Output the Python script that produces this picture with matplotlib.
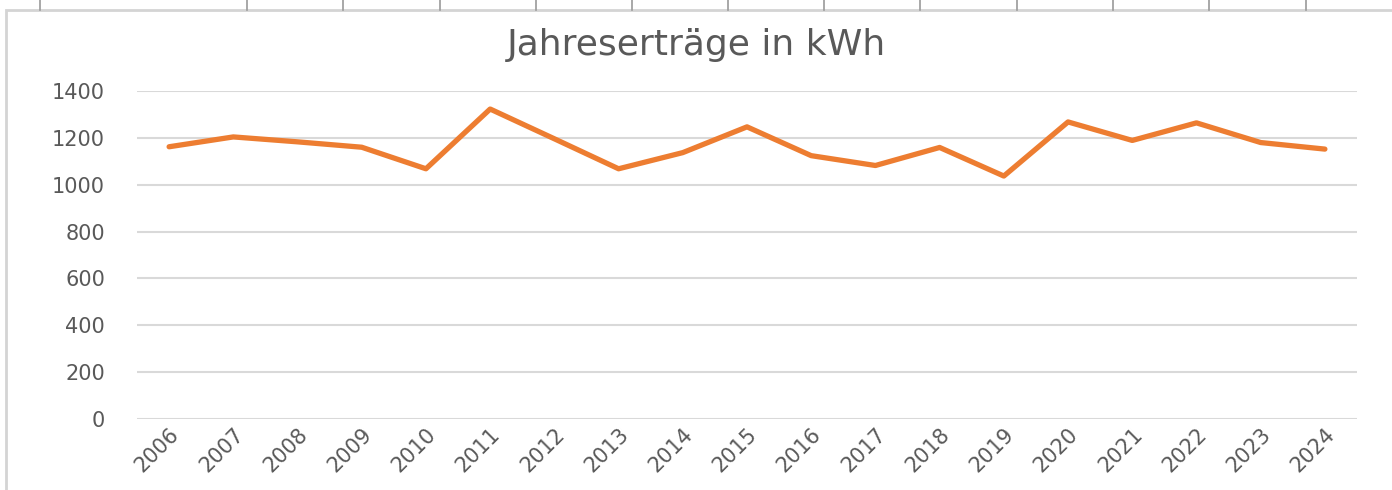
import matplotlib.pyplot as plt
from matplotlib.lines import Line2D
from matplotlib.patches import Rectangle

# Jahreserträge (kWh)
years = ['2006', '2007', '2008', '2009', '2010', '2011', '2012', '2013', '2014', '2015',
         '2016', '2017', '2018', '2019', '2020', '2021', '2022', '2023', '2024']
ertrag = [1162, 1204, 1183, 1160, 1068, 1323, 1196, 1068, 1137, 1247,
          1124, 1082, 1159, 1037, 1268, 1189, 1264, 1180, 1152]
y_ticks = [0, 200, 400, 600, 800, 1000, 1200, 1400]

text_grey = '#595959'
grid_grey = '#D9D9D9'
orange = '#ED7D31'

fig = plt.figure(figsize=(13.92, 4.9), dpi=100)
fig.patch.set_facecolor('white')

# spreadsheet cells peeking out above the chart
cell_x = [40, 247, 343, 440, 536, 632, 728, 824, 920, 1017, 1113, 1209, 1306]
for cx in cell_x:
    fig.add_artist(Line2D([cx / 1392, cx / 1392], [1, 1 - 10 / 490],
                          color='#9a9a9a', lw=1.2))
fig.add_artist(Rectangle((6 / 1392, -0.01), 1.1, 1 - 10 / 490 + 0.01,
                         fill=False, edgecolor='#d4d4d4', lw=2,
                         transform=fig.transFigure))

ax = fig.add_axes([137 / 1392, 71 / 490, 1220 / 1392, 328 / 490])
x = list(range(len(years)))
ax.plot(x, ertrag, color=orange, lw=3.8, solid_capstyle='round',
        solid_joinstyle='round')

ax.set_xlim(-0.5, len(years) - 0.5)
ax.set_ylim(0, 1400)
ax.set_yticks(y_ticks)
ax.set_yticklabels([str(v) for v in y_ticks])
ax.set_xticks(x)
ax.set_xticklabels(years, rotation=45, ha='right', rotation_mode='anchor')

ax.grid(axis='y', color=grid_grey, lw=1.5)
ax.set_axisbelow(True)
for s in ax.spines.values():
    s.set_visible(False)
ax.tick_params(axis='both', length=0, colors=text_grey, labelsize=15)
ax.tick_params(axis='y', pad=23)
ax.tick_params(axis='x', pad=4)

fig.text(0.5, 1 - 45 / 490, 'Jahreserträge in kWh', ha='center', va='center',
         fontsize=26, color=text_grey)

fig.savefig('out.png', dpi=100)
